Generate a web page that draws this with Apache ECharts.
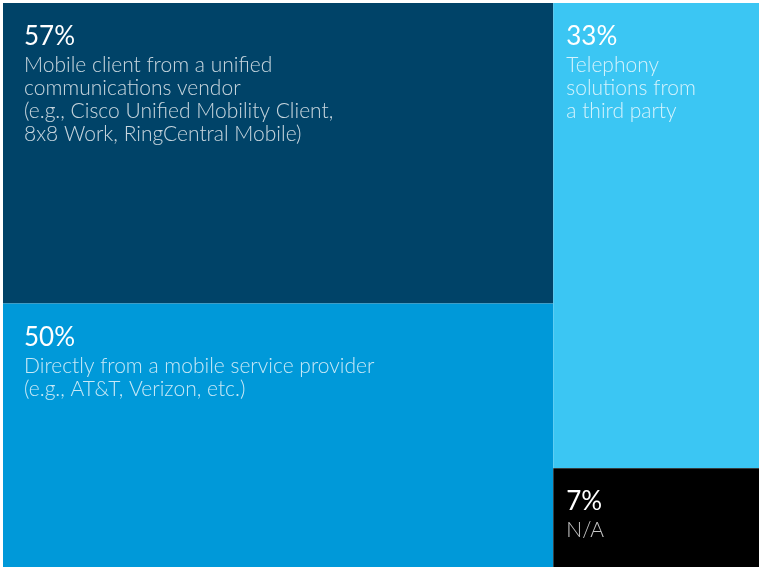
<!DOCTYPE html>
<html>
<head>
<meta charset="utf-8">
<style>
  html, body { margin: 0; padding: 0; background: #ffffff; }
  #chart { width: 759px; height: 568px; }
</style>
<script src="https://cdn.jsdelivr.net/npm/echarts@6/dist/echarts.min.js"></script>
</head>
<body>
<div id="chart"></div>
<script>
// Share of respondents per source of mobile telephony
const categories = [
  'Mobile client from a unified\ncommunications vendor\n(e.g., Cisco Unified Mobility Client,\n8x8 Work, RingCentral Mobile)',
  'Directly from a mobile service provider\n(e.g., AT&T, Verizon, etc.)',
  'Telephony\nsolutions from\na third party',
  'N/A'
];
const shares = [57, 50, 33, 7];
const tileColors = ['#004368', '#0099d9', '#3bc6f3', '#000000'];
const labelPadLeft = [21, 21, 13, 13];
const labelPadTop = [17, 17, 17, 16];

const data = categories.map((name, i) => ({
  name: name,
  value: shares[i],
  itemStyle: { color: tileColors[i] },
  label: { padding: [labelPadTop[i], 0, 0, labelPadLeft[i]] }
}));

const chart = echarts.init(document.getElementById('chart'), null, { renderer: 'canvas' });
chart.setOption({
  animation: false,
  series: [{
    type: 'treemap',
    left: 3,
    top: 3,
    right: 0,
    bottom: 1,
    roam: false,
    nodeClick: false,
    breadcrumb: { show: false },
    itemStyle: { borderWidth: 0, gapWidth: 0 },
    label: {
      show: true,
      position: 'insideTopLeft',
      overflow: 'none',
      formatter: p => '{p|' + p.value + '%}\n{d|' + p.name.split('\n').join('}\n{d|') + '}',
      rich: {
        p: { fontFamily: 'Lato', fontSize: 26, color: '#ffffff', lineHeight: 34 },
        d: { fontFamily: 'Lato', fontWeight: 300, fontSize: 21, color: 'rgba(255,255,255,0.78)', lineHeight: 23 }
      }
    },
    data: data
  }]
});
</script>
</body>
</html>
